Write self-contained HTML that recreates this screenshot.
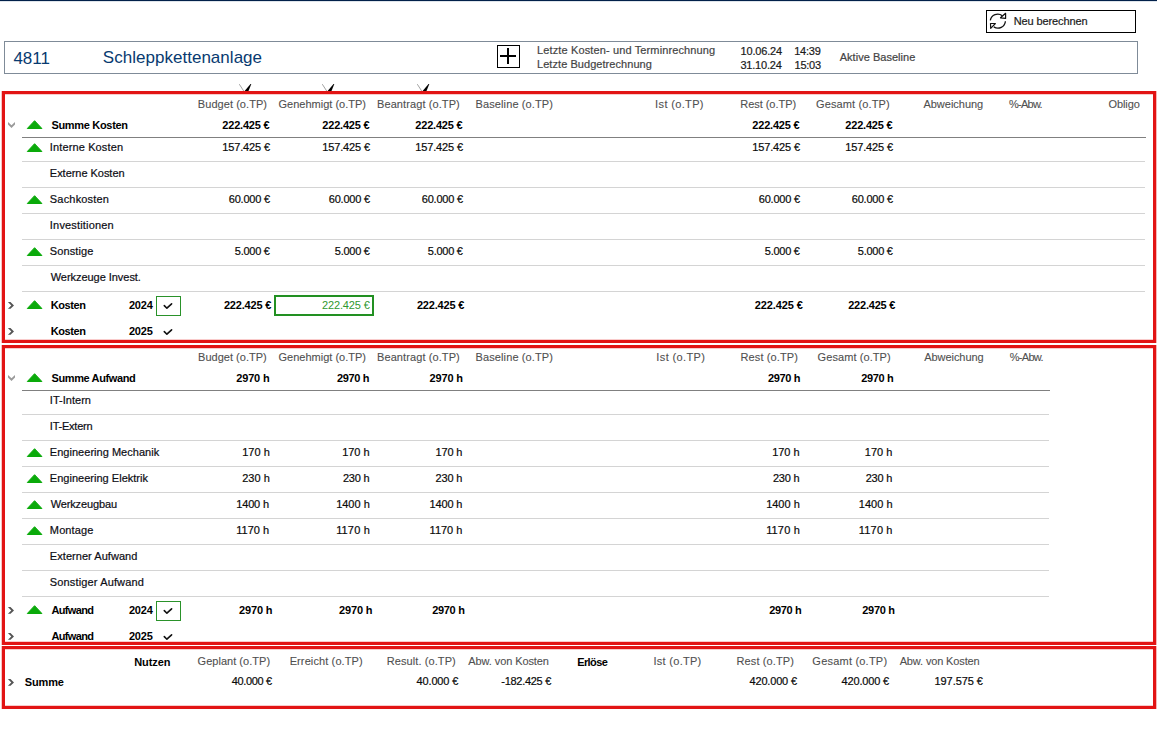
<!DOCTYPE html><html><head><meta charset="utf-8"><style>
html,body{margin:0;padding:0;background:#fff;width:1157px;height:738px;overflow:hidden;position:relative}
.t{position:absolute;font-family:"Liberation Sans",sans-serif;font-size:11px;line-height:11px;white-space:nowrap;color:#1a1a1a;-webkit-text-stroke:0.2px currentColor}
.b{position:absolute}
.hd{color:#505050;-webkit-text-stroke:0.1px currentColor}
.hd2{color:#444}
.dk{color:#1a1a1a}
.lb{color:#0d0d14}
.nm{color:#0a0a0a}
.bd{font-weight:bold;color:#000;-webkit-text-stroke:0}
.gr{color:#2f982f;-webkit-text-stroke:0}
.big{font-size:17px;line-height:17px;color:#083a70;-webkit-text-stroke:0}
</style></head><body>
<div class="b" style="left:0px;top:0px;width:1157px;height:1px;background:#02214a"></div>
<div class="b" style="left:0px;top:1px;width:1157px;height:1px;background:#dfe5eb"></div>
<div class="b" style="left:986px;top:10px;width:150px;height:23px;border:1px solid #000;box-sizing:border-box"></div>
<svg class="b" style="left:986px;top:10px" width="24" height="23" viewBox="0 0 24 23"><path d="M4.3 10.4 A7.5 7.5 0 0 1 16.3 5.7" fill="none" stroke="#111" stroke-width="1.3"/><path d="M19.4 11.2 A7.5 7.5 0 0 1 7.8 16.9" fill="none" stroke="#111" stroke-width="1.3"/><path d="M14.5 7.8 L19.6 3.3 L19.6 8.4 Z" fill="none" stroke="#111" stroke-width="1.2" stroke-linejoin="round"/><path d="M4.5 13.5 L9.4 13.5 L4.7 18.3 Z" fill="none" stroke="#111" stroke-width="1.2" stroke-linejoin="round"/></svg>
<div id="x0" class="t dk" style="left:1013.72px;top:16px;letter-spacing:-0.120px">Neu berechnen</div>
<div class="b" style="left:4px;top:41px;width:1134px;height:33px;border:1px solid #7f8b98;box-sizing:border-box"></div>
<div id="x1" class="t big" style="left:13.44px;top:50px;letter-spacing:-0.053px">4811</div>
<div id="x2" class="t big" style="left:102.78px;top:49px;letter-spacing:0.027px">Schleppkettenanlage</div>
<div class="b" style="left:497px;top:45px;width:23px;height:23px;border:1px solid #000;box-sizing:border-box"></div>
<div class="b" style="left:500px;top:55px;width:16px;height:2px;background:#000"></div>
<div class="b" style="left:507px;top:48px;width:2px;height:16px;background:#000"></div>
<div id="x3" class="t hd2" style="left:537.00px;top:45px;letter-spacing:0.130px">Letzte Kosten- und Terminrechnung</div>
<div id="x4" class="t hd2" style="left:537.00px;top:59px;letter-spacing:0.056px">Letzte Budgetrechnung</div>
<div id="x5" class="t dk" style="left:740.58px;top:46px;letter-spacing:-0.183px">10.06.24</div>
<div id="x6" class="t dk" style="left:794.14px;top:46px;letter-spacing:-0.200px">14:39</div>
<div id="x7" class="t dk" style="left:740.44px;top:60px;letter-spacing:-0.206px">31.10.24</div>
<div id="x8" class="t dk" style="left:794.50px;top:60px;letter-spacing:-0.240px">15:03</div>
<div id="x9" class="t hd2" style="left:839.66px;top:52px;letter-spacing:0.034px">Aktive Baseline</div>
<svg class="b" style="left:239px;top:83px" width="13" height="9" viewBox="0 0 13 9"><path d="M0.3 1.2 L4.7 8" fill="none" stroke="#999" stroke-width="0.9"/><path d="M11.5 0.9 L12.3 1.0 L9.5 8 L5.6 8 Z" fill="#000"/></svg>
<svg class="b" style="left:322px;top:83px" width="13" height="9" viewBox="0 0 13 9"><path d="M0.3 1.2 L4.7 8" fill="none" stroke="#999" stroke-width="0.9"/><path d="M11.5 0.9 L12.3 1.0 L9.5 8 L5.6 8 Z" fill="#000"/></svg>
<svg class="b" style="left:417px;top:83px" width="13" height="9" viewBox="0 0 13 9"><path d="M0.3 1.2 L4.7 8" fill="none" stroke="#999" stroke-width="0.9"/><path d="M11.5 0.9 L12.3 1.0 L9.5 8 L5.6 8 Z" fill="#000"/></svg>
<div class="b" style="left:2px;top:91px;width:1154px;height:252px;border:3px solid #e21414;box-sizing:border-box;box-shadow:-1px 0 0 0 rgba(226,20,20,0.25),1px 0 0 0 rgba(226,20,20,0.3),inset 0 1px 0 0 rgba(226,20,20,0.22),inset 0 -1px 0 0 rgba(226,20,20,0.22)"></div>
<div class="b" style="left:2px;top:345px;width:1154px;height:300px;border:3px solid #e21414;box-sizing:border-box;box-shadow:-1px 0 0 0 rgba(226,20,20,0.25),1px 0 0 0 rgba(226,20,20,0.3),inset 0 1px 0 0 rgba(226,20,20,0.22),inset 0 -1px 0 0 rgba(226,20,20,0.22)"></div>
<div class="b" style="left:2px;top:646px;width:1154px;height:63px;border:3px solid #e21414;box-sizing:border-box;box-shadow:-1px 0 0 0 rgba(226,20,20,0.25),1px 0 0 0 rgba(226,20,20,0.3),inset 0 1px 0 0 rgba(226,20,20,0.22),inset 0 -1px 0 0 rgba(226,20,20,0.22)"></div>
<div id="x10" class="t hd" style="left:197.86px;top:99px;letter-spacing:0.053px">Budget (o.TP)</div>
<div id="x11" class="t hd" style="left:278.44px;top:99px;letter-spacing:0.011px">Genehmigt (o.TP)</div>
<div id="x12" class="t hd" style="left:377.00px;top:99px;letter-spacing:0.096px">Beantragt (o.TP)</div>
<div id="x13" class="t hd" style="left:475.50px;top:99px;letter-spacing:0.114px">Baseline (o.TP)</div>
<div id="x14" class="t hd" style="left:655.12px;top:99px;letter-spacing:0.356px">Ist (o.TP)</div>
<div id="x15" class="t hd" style="left:740.22px;top:99px;letter-spacing:-0.032px">Rest (o.TP)</div>
<div id="x16" class="t hd" style="left:816.00px;top:99px;letter-spacing:0.133px">Gesamt (o.TP)</div>
<div id="x17" class="t hd" style="left:923.44px;top:99px;letter-spacing:-0.018px">Abweichung</div>
<div id="x18" class="t hd" style="left:1008.94px;top:99px;letter-spacing:-0.736px">%-Abw.</div>
<div id="x19" class="t hd" style="left:1108.44px;top:99px;letter-spacing:-0.064px">Obligo</div>
<svg class="b" style="left:7px;top:121px" width="10" height="9" viewBox="0 0 10 9"><path d="M1 1 L4.5 4.3 L8 1 L8 3.6 L4.5 7 L1 3.6 Z" fill="#9a9a9a"/></svg>
<svg class="b" style="left:26px;top:119px" width="17" height="11" viewBox="0 0 17 11"><path d="M1.3 9.5 L8.6 1.7 L15.9 9.5 Z" fill="#0aaa0a" stroke="#0aaa0a" stroke-width="1" stroke-linejoin="round"/></svg>
<div id="x20" class="t bd" style="left:51.44px;top:120px;letter-spacing:-0.320px">Summe Kosten</div>
<div id="x21" class="t bd" style="left:222.30px;top:120px;letter-spacing:-0.200px">222.425 €</div>
<div id="x22" class="t bd" style="left:322.30px;top:120px;letter-spacing:-0.200px">222.425 €</div>
<div id="x23" class="t bd" style="left:415.30px;top:120px;letter-spacing:-0.200px">222.425 €</div>
<div id="x24" class="t bd" style="left:752.30px;top:120px;letter-spacing:-0.200px">222.425 €</div>
<div id="x25" class="t bd" style="left:845.30px;top:120px;letter-spacing:-0.200px">222.425 €</div>
<div class="b" style="left:22px;top:137px;width:1124px;height:1px;background:#808080"></div>
<svg class="b" style="left:26px;top:142px" width="17" height="11" viewBox="0 0 17 11"><path d="M1.3 9.5 L8.6 1.7 L15.9 9.5 Z" fill="#0aaa0a" stroke="#0aaa0a" stroke-width="1" stroke-linejoin="round"/></svg>
<div id="x26" class="t lb" style="left:49.86px;top:142px;letter-spacing:0.123px">Interne Kosten</div>
<div id="x27" class="t nm" style="left:222.22px;top:142px;letter-spacing:-0.140px">157.425 €</div>
<div id="x28" class="t nm" style="left:322.22px;top:142px;letter-spacing:-0.140px">157.425 €</div>
<div id="x29" class="t nm" style="left:415.22px;top:142px;letter-spacing:-0.140px">157.425 €</div>
<div id="x30" class="t nm" style="left:752.22px;top:142px;letter-spacing:-0.140px">157.425 €</div>
<div id="x31" class="t nm" style="left:845.22px;top:142px;letter-spacing:-0.140px">157.425 €</div>
<div class="b" style="left:22px;top:161px;width:1123px;height:1px;background:#d4d4d4"></div>
<div id="x32" class="t lb" style="left:49.86px;top:168px;letter-spacing:-0.037px">Externe Kosten</div>
<div class="b" style="left:22px;top:187px;width:1123px;height:1px;background:#d4d4d4"></div>
<svg class="b" style="left:26px;top:194px" width="17" height="11" viewBox="0 0 17 11"><path d="M1.3 9.5 L8.6 1.7 L15.9 9.5 Z" fill="#0aaa0a" stroke="#0aaa0a" stroke-width="1" stroke-linejoin="round"/></svg>
<div id="x33" class="t lb" style="left:49.86px;top:194px;letter-spacing:0.178px">Sachkosten</div>
<div id="x34" class="t nm" style="left:228.80px;top:194px;letter-spacing:-0.229px">60.000 €</div>
<div id="x35" class="t nm" style="left:328.80px;top:194px;letter-spacing:-0.229px">60.000 €</div>
<div id="x36" class="t nm" style="left:421.80px;top:194px;letter-spacing:-0.229px">60.000 €</div>
<div id="x37" class="t nm" style="left:758.80px;top:194px;letter-spacing:-0.229px">60.000 €</div>
<div id="x38" class="t nm" style="left:851.80px;top:194px;letter-spacing:-0.229px">60.000 €</div>
<div class="b" style="left:22px;top:213px;width:1123px;height:1px;background:#d4d4d4"></div>
<div id="x39" class="t lb" style="left:49.86px;top:220px;letter-spacing:0.173px">Investitionen</div>
<div class="b" style="left:22px;top:239px;width:1123px;height:1px;background:#d4d4d4"></div>
<svg class="b" style="left:26px;top:246px" width="17" height="11" viewBox="0 0 17 11"><path d="M1.3 9.5 L8.6 1.7 L15.9 9.5 Z" fill="#0aaa0a" stroke="#0aaa0a" stroke-width="1" stroke-linejoin="round"/></svg>
<div id="x40" class="t lb" style="left:49.86px;top:246px;letter-spacing:0.091px">Sonstige</div>
<div id="x41" class="t nm" style="left:234.80px;top:246px;letter-spacing:-0.267px">5.000 €</div>
<div id="x42" class="t nm" style="left:334.80px;top:246px;letter-spacing:-0.267px">5.000 €</div>
<div id="x43" class="t nm" style="left:427.80px;top:246px;letter-spacing:-0.267px">5.000 €</div>
<div id="x44" class="t nm" style="left:764.80px;top:246px;letter-spacing:-0.267px">5.000 €</div>
<div id="x45" class="t nm" style="left:857.80px;top:246px;letter-spacing:-0.267px">5.000 €</div>
<div class="b" style="left:22px;top:265px;width:1123px;height:1px;background:#d4d4d4"></div>
<div id="x46" class="t lb" style="left:50.66px;top:272px;letter-spacing:-0.040px">Werkzeuge Invest.</div>
<div class="b" style="left:22px;top:291px;width:1123px;height:1px;background:#d4d4d4"></div>
<svg class="b" style="left:7px;top:301px" width="9" height="9" viewBox="0 0 9 9"><path d="M0.9 1 L3.5 1 L7 4.4 L3.5 7.8 L0.9 7.8 L4.3 4.4 Z" fill="#555"/></svg>
<svg class="b" style="left:26px;top:299px" width="17" height="11" viewBox="0 0 17 11"><path d="M1.3 9.5 L8.6 1.7 L15.9 9.5 Z" fill="#0aaa0a" stroke="#0aaa0a" stroke-width="1" stroke-linejoin="round"/></svg>
<div id="x47" class="t bd" style="left:50.64px;top:300px;letter-spacing:-0.384px">Kosten</div>
<div id="x48" class="t bd" style="left:128.94px;top:300px;letter-spacing:-0.213px">2024</div>
<div class="b" style="left:156px;top:296px;width:25px;height:20px;border:1px solid #2a922a;box-sizing:border-box"></div>
<svg class="b" style="left:163px;top:302px" width="11" height="8" viewBox="0 0 11 8"><path d="M1.3 3.6 L3.9 6.2 L8.6 1.9" fill="none" stroke="#111" stroke-width="1.6" stroke-linecap="round" stroke-linejoin="round"/></svg>
<div id="x49" class="t bd" style="left:223.94px;top:300px;letter-spacing:-0.200px">222.425 €</div>
<div id="x50" class="t gr" style="left:322.00px;top:300px;letter-spacing:-0.140px">222.425 €</div>
<div id="x51" class="t bd" style="left:416.94px;top:300px;letter-spacing:-0.200px">222.425 €</div>
<div id="x52" class="t bd" style="left:754.72px;top:300px;letter-spacing:-0.100px">222.425 €</div>
<div id="x53" class="t bd" style="left:848.16px;top:300px;letter-spacing:-0.200px">222.425 €</div>
<div class="b" style="left:274px;top:295px;width:100px;height:21px;border:2px solid #229022;box-sizing:border-box"></div>
<svg class="b" style="left:7px;top:327px" width="9" height="9" viewBox="0 0 9 9"><path d="M0.9 1 L3.5 1 L7 4.4 L3.5 7.8 L0.9 7.8 L4.3 4.4 Z" fill="#555"/></svg>
<div id="x54" class="t bd" style="left:50.64px;top:326px;letter-spacing:-0.384px">Kosten</div>
<div id="x55" class="t bd" style="left:128.94px;top:326px;letter-spacing:-0.213px">2025</div>
<svg class="b" style="left:163px;top:328px" width="11" height="8" viewBox="0 0 11 8"><path d="M1.3 3.6 L3.9 6.2 L8.6 1.9" fill="none" stroke="#111" stroke-width="1.6" stroke-linecap="round" stroke-linejoin="round"/></svg>
<div id="x56" class="t hd" style="left:198.08px;top:352px;letter-spacing:0.013px">Budget (o.TP)</div>
<div id="x57" class="t hd" style="left:278.44px;top:352px;letter-spacing:0.011px">Genehmigt (o.TP)</div>
<div id="x58" class="t hd" style="left:377.00px;top:352px;letter-spacing:0.096px">Beantragt (o.TP)</div>
<div id="x59" class="t hd" style="left:475.50px;top:352px;letter-spacing:0.114px">Baseline (o.TP)</div>
<div id="x60" class="t hd" style="left:656.34px;top:352px;letter-spacing:0.373px">Ist (o.TP)</div>
<div id="x61" class="t hd" style="left:740.50px;top:352px;letter-spacing:0.112px">Rest (o.TP)</div>
<div id="x62" class="t hd" style="left:817.58px;top:352px;letter-spacing:0.080px">Gesamt (o.TP)</div>
<div id="x63" class="t hd" style="left:924.30px;top:352px;letter-spacing:-0.071px">Abweichung</div>
<div id="x64" class="t hd" style="left:1009.66px;top:352px;letter-spacing:-0.672px">%-Abw.</div>
<svg class="b" style="left:7px;top:374px" width="10" height="9" viewBox="0 0 10 9"><path d="M1 1 L4.5 4.3 L8 1 L8 3.6 L4.5 7 L1 3.6 Z" fill="#9a9a9a"/></svg>
<svg class="b" style="left:26px;top:372px" width="17" height="11" viewBox="0 0 17 11"><path d="M1.3 9.5 L8.6 1.7 L15.9 9.5 Z" fill="#0aaa0a" stroke="#0aaa0a" stroke-width="1" stroke-linejoin="round"/></svg>
<div id="x65" class="t bd" style="left:51.44px;top:373px;letter-spacing:-0.373px">Summe Aufwand</div>
<div id="x66" class="t bd" style="left:236.22px;top:373px;letter-spacing:-0.160px">2970 h</div>
<div id="x67" class="t bd" style="left:336.94px;top:373px;letter-spacing:-0.320px">2970 h</div>
<div id="x68" class="t bd" style="left:429.58px;top:373px;letter-spacing:-0.160px">2970 h</div>
<div id="x69" class="t bd" style="left:767.94px;top:373px;letter-spacing:-0.320px">2970 h</div>
<div id="x70" class="t bd" style="left:861.16px;top:373px;letter-spacing:-0.320px">2970 h</div>
<div class="b" style="left:22px;top:390px;width:1028px;height:1px;background:#808080"></div>
<div id="x71" class="t lb" style="left:49.86px;top:395px;letter-spacing:0.020px">IT-Intern</div>
<div class="b" style="left:22px;top:414px;width:1027px;height:1px;background:#d4d4d4"></div>
<div id="x72" class="t lb" style="left:49.86px;top:421px;letter-spacing:-0.240px">IT-Extern</div>
<div class="b" style="left:22px;top:440px;width:1027px;height:1px;background:#d4d4d4"></div>
<svg class="b" style="left:26px;top:447px" width="17" height="11" viewBox="0 0 17 11"><path d="M1.3 9.5 L8.6 1.7 L15.9 9.5 Z" fill="#0aaa0a" stroke="#0aaa0a" stroke-width="1" stroke-linejoin="round"/></svg>
<div id="x73" class="t lb" style="left:49.86px;top:447px;letter-spacing:0.025px">Engineering Mechanik</div>
<div id="x74" class="t nm" style="left:242.22px;top:447px;letter-spacing:0.000px">170 h</div>
<div id="x75" class="t nm" style="left:342.14px;top:447px;letter-spacing:0.000px">170 h</div>
<div id="x76" class="t nm" style="left:435.58px;top:447px;letter-spacing:-0.200px">170 h</div>
<div id="x77" class="t nm" style="left:772.14px;top:447px;letter-spacing:0.000px">170 h</div>
<div id="x78" class="t nm" style="left:864.86px;top:447px;letter-spacing:0.000px">170 h</div>
<div class="b" style="left:22px;top:466px;width:1027px;height:1px;background:#d4d4d4"></div>
<svg class="b" style="left:26px;top:473px" width="17" height="11" viewBox="0 0 17 11"><path d="M1.3 9.5 L8.6 1.7 L15.9 9.5 Z" fill="#0aaa0a" stroke="#0aaa0a" stroke-width="1" stroke-linejoin="round"/></svg>
<div id="x79" class="t lb" style="left:49.86px;top:473px;letter-spacing:0.017px">Engineering Elektrik</div>
<div id="x80" class="t nm" style="left:242.22px;top:473px;letter-spacing:0.000px">230 h</div>
<div id="x81" class="t nm" style="left:342.94px;top:473px;letter-spacing:-0.200px">230 h</div>
<div id="x82" class="t nm" style="left:435.58px;top:473px;letter-spacing:-0.200px">230 h</div>
<div id="x83" class="t nm" style="left:772.94px;top:473px;letter-spacing:-0.200px">230 h</div>
<div id="x84" class="t nm" style="left:865.66px;top:473px;letter-spacing:-0.200px">230 h</div>
<div class="b" style="left:22px;top:492px;width:1027px;height:1px;background:#d4d4d4"></div>
<svg class="b" style="left:26px;top:499px" width="17" height="11" viewBox="0 0 17 11"><path d="M1.3 9.5 L8.6 1.7 L15.9 9.5 Z" fill="#0aaa0a" stroke="#0aaa0a" stroke-width="1" stroke-linejoin="round"/></svg>
<div id="x85" class="t lb" style="left:50.66px;top:499px;letter-spacing:-0.128px">Werkzeugbau</div>
<div id="x86" class="t nm" style="left:236.22px;top:499px;letter-spacing:-0.160px">1400 h</div>
<div id="x87" class="t nm" style="left:336.14px;top:499px;letter-spacing:0.000px">1400 h</div>
<div id="x88" class="t nm" style="left:429.58px;top:499px;letter-spacing:-0.160px">1400 h</div>
<div id="x89" class="t nm" style="left:766.14px;top:499px;letter-spacing:0.000px">1400 h</div>
<div id="x90" class="t nm" style="left:858.86px;top:499px;letter-spacing:0.000px">1400 h</div>
<div class="b" style="left:22px;top:518px;width:1027px;height:1px;background:#d4d4d4"></div>
<svg class="b" style="left:26px;top:525px" width="17" height="11" viewBox="0 0 17 11"><path d="M1.3 9.5 L8.6 1.7 L15.9 9.5 Z" fill="#0aaa0a" stroke="#0aaa0a" stroke-width="1" stroke-linejoin="round"/></svg>
<div id="x91" class="t lb" style="left:49.86px;top:525px;letter-spacing:0.107px">Montage</div>
<div id="x92" class="t nm" style="left:236.22px;top:525px;letter-spacing:0.000px">1170 h</div>
<div id="x93" class="t nm" style="left:336.14px;top:525px;letter-spacing:0.160px">1170 h</div>
<div id="x94" class="t nm" style="left:429.58px;top:525px;letter-spacing:0.000px">1170 h</div>
<div id="x95" class="t nm" style="left:766.14px;top:525px;letter-spacing:0.160px">1170 h</div>
<div id="x96" class="t nm" style="left:858.86px;top:525px;letter-spacing:0.160px">1170 h</div>
<div class="b" style="left:22px;top:544px;width:1027px;height:1px;background:#d4d4d4"></div>
<div id="x97" class="t lb" style="left:49.86px;top:551px;letter-spacing:0.043px">Externer Aufwand</div>
<div class="b" style="left:22px;top:570px;width:1027px;height:1px;background:#d4d4d4"></div>
<div id="x98" class="t lb" style="left:49.86px;top:577px;letter-spacing:0.140px">Sonstiger Aufwand</div>
<div class="b" style="left:22px;top:596px;width:1027px;height:1px;background:#d4d4d4"></div>
<svg class="b" style="left:7px;top:606px" width="9" height="9" viewBox="0 0 9 9"><path d="M0.9 1 L3.5 1 L7 4.4 L3.5 7.8 L0.9 7.8 L4.3 4.4 Z" fill="#555"/></svg>
<svg class="b" style="left:26px;top:604px" width="17" height="11" viewBox="0 0 17 11"><path d="M1.3 9.5 L8.6 1.7 L15.9 9.5 Z" fill="#0aaa0a" stroke="#0aaa0a" stroke-width="1" stroke-linejoin="round"/></svg>
<div id="x99" class="t bd" style="left:51.44px;top:605px;letter-spacing:-0.640px">Aufwand</div>
<div id="x100" class="t bd" style="left:128.94px;top:605px;letter-spacing:-0.213px">2024</div>
<div class="b" style="left:156px;top:601px;width:25px;height:20px;border:1px solid #2a922a;box-sizing:border-box"></div>
<svg class="b" style="left:163px;top:607px" width="11" height="8" viewBox="0 0 11 8"><path d="M1.3 3.6 L3.9 6.2 L8.6 1.9" fill="none" stroke="#111" stroke-width="1.6" stroke-linecap="round" stroke-linejoin="round"/></svg>
<div id="x101" class="t bd" style="left:239.08px;top:605px;letter-spacing:-0.160px">2970 h</div>
<div id="x102" class="t bd" style="left:339.08px;top:605px;letter-spacing:-0.160px">2970 h</div>
<div id="x103" class="t bd" style="left:432.22px;top:605px;letter-spacing:-0.320px">2970 h</div>
<div id="x104" class="t bd" style="left:769.16px;top:605px;letter-spacing:-0.320px">2970 h</div>
<div id="x105" class="t bd" style="left:862.30px;top:605px;letter-spacing:-0.320px">2970 h</div>
<svg class="b" style="left:7px;top:632px" width="9" height="9" viewBox="0 0 9 9"><path d="M0.9 1 L3.5 1 L7 4.4 L3.5 7.8 L0.9 7.8 L4.3 4.4 Z" fill="#555"/></svg>
<div id="x106" class="t bd" style="left:51.44px;top:631px;letter-spacing:-0.640px">Aufwand</div>
<div id="x107" class="t bd" style="left:128.94px;top:631px;letter-spacing:-0.213px">2025</div>
<svg class="b" style="left:163px;top:633px" width="11" height="8" viewBox="0 0 11 8"><path d="M1.3 3.6 L3.9 6.2 L8.6 1.9" fill="none" stroke="#111" stroke-width="1.6" stroke-linecap="round" stroke-linejoin="round"/></svg>
<div id="x108" class="t bd" style="left:134.22px;top:657px;letter-spacing:-0.064px">Nutzen</div>
<div id="x109" class="t hd" style="left:197.58px;top:656px;letter-spacing:0.025px">Geplant (o.TP)</div>
<div id="x110" class="t hd" style="left:289.64px;top:656px;letter-spacing:0.114px">Erreicht (o.TP)</div>
<div id="x111" class="t hd" style="left:386.64px;top:656px;letter-spacing:0.098px">Result. (o.TP)</div>
<div id="x112" class="t hd" style="left:468.30px;top:656px;letter-spacing:-0.091px">Abw. von Kosten</div>
<div id="x113" class="t bd" style="left:577.22px;top:657px;letter-spacing:-0.608px">Erlöse</div>
<div id="x114" class="t hd" style="left:653.50px;top:656px;letter-spacing:0.284px">Ist (o.TP)</div>
<div id="x115" class="t hd" style="left:736.50px;top:656px;letter-spacing:0.112px">Rest (o.TP)</div>
<div id="x116" class="t hd" style="left:812.36px;top:656px;letter-spacing:0.213px">Gesamt (o.TP)</div>
<div id="x117" class="t hd" style="left:899.66px;top:656px;letter-spacing:-0.137px">Abw. von Kosten</div>
<svg class="b" style="left:7px;top:678px" width="9" height="9" viewBox="0 0 9 9"><path d="M0.9 1 L3.5 1 L7 4.4 L3.5 7.8 L0.9 7.8 L4.3 4.4 Z" fill="#555"/></svg>
<div id="x118" class="t bd" style="left:24.86px;top:677px;letter-spacing:-0.160px">Summe</div>
<div id="x119" class="t nm" style="left:231.66px;top:676px;letter-spacing:-0.343px">40.000 €</div>
<div id="x120" class="t nm" style="left:416.58px;top:676px;letter-spacing:-0.160px">40.000 €</div>
<div id="x121" class="t nm" style="left:501.30px;top:676px;letter-spacing:-0.284px">-182.425 €</div>
<div id="x122" class="t nm" style="left:749.52px;top:676px;letter-spacing:-0.180px">420.000 €</div>
<div id="x123" class="t nm" style="left:841.58px;top:676px;letter-spacing:-0.160px">420.000 €</div>
<div id="x124" class="t nm" style="left:934.50px;top:676px;letter-spacing:-0.060px">197.575 €</div>
</body></html>
